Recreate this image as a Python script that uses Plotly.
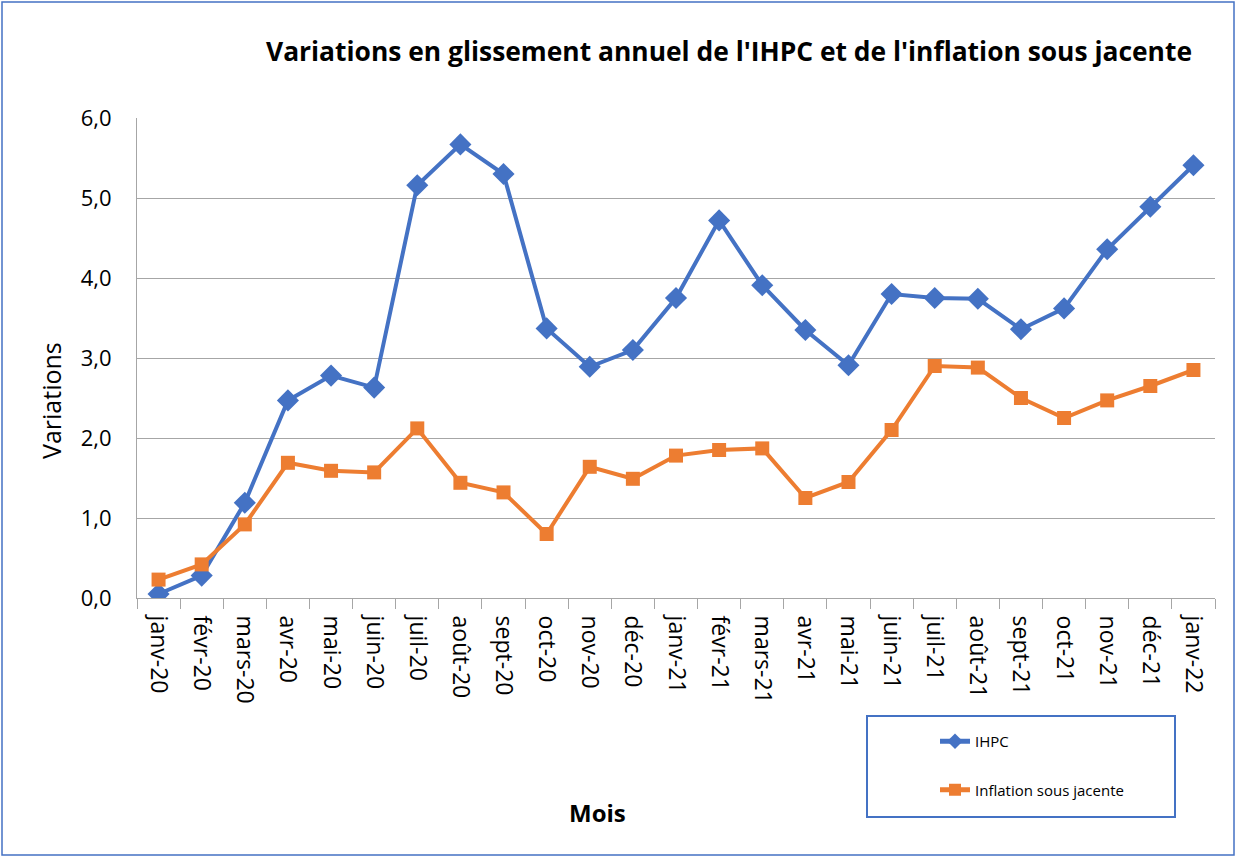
import plotly.graph_objects as go

months = ["janv-20", "févr-20", "mars-20", "avr-20", "mai-20", "juin-20", "juil-20", "août-20",
          "sept-20", "oct-20", "nov-20", "déc-20", "janv-21", "févr-21", "mars-21", "avr-21",
          "mai-21", "juin-21", "juil-21", "août-21", "sept-21", "oct-21", "nov-21", "déc-21", "janv-22"]
ihpc = [0.05, 0.28, 1.19, 2.47, 2.78, 2.63, 5.16, 5.67, 5.30, 3.37, 2.89, 3.10, 3.75,
        4.72, 3.91, 3.35, 2.91, 3.80, 3.75, 3.74, 3.36, 3.62, 4.36, 4.89, 5.41]
sous_jacente = [0.23, 0.42, 0.92, 1.69, 1.59, 1.57, 2.12, 1.44, 1.32, 0.80, 1.64, 1.49, 1.78,
                1.85, 1.87, 1.25, 1.45, 2.10, 2.90, 2.88, 2.50, 2.25, 2.47, 2.65, 2.85]
y_ticks = [0, 1, 2, 3, 4, 5, 6]

W, H = 1236, 857
L, R, T, B = 137, 1215, 118, 598


def px(x):
    return (x - L) / (R - L)


def py(y):
    return (B - y) / (B - T)


fig = go.Figure()
fig.add_trace(go.Scatter(x=months, y=ihpc, name="IHPC", mode="lines+markers",
                         line=dict(color="#4472C4", width=4),
                         marker=dict(symbol="diamond", size=17, color="#4472C4"),
                         legendgroup="a"))
fig.add_trace(go.Scatter(x=months, y=sous_jacente, name="Inflation sous jacente", mode="lines+markers",
                         line=dict(color="#ED7D31", width=4),
                         marker=dict(symbol="square", size=14, color="#ED7D31"),
                         legendgroup="b"))

font_main = "Open Sans, sans-serif"

fig.update_layout(
    width=W, height=H,
    margin=dict(l=L, r=W - R, t=T, b=H - B, autoexpand=False),
    paper_bgcolor="white", plot_bgcolor="white",
    separators=", ",
    title=dict(text="<b>Variations en glissement annuel de l'IHPC et de l'inflation sous jacente</b>",
               x=729 / W, xanchor="center", y=1 - 52 / H, yanchor="middle",
               font=dict(family=font_main, size=26.4, color="black")),
    xaxis=dict(type="category", range=[-0.5, 24.5], tickangle=90, tickson="boundaries", ticks="outside",
               ticklen=10, tickcolor="#a6a6a6", showgrid=False, ticklabelstandoff=12,
               showline=True, linecolor="#a6a6a6", linewidth=1,
               tickfont=dict(family=font_main, size=23, color="black")),
    yaxis=dict(range=[0, 6], tickvals=y_ticks, tickformat=".1f", showgrid=True,
               gridcolor="#a6a6a6", gridwidth=1, zeroline=False, ticklabelstandoff=20,
               showline=True, linecolor="#a6a6a6", linewidth=1, ticks="",
               tickfont=dict(family=font_main, size=22, color="black")),
    showlegend=True,
    legend=dict(x=px(935), y=py(725), xanchor="left", yanchor="top",
                bgcolor="rgba(0,0,0,0)", borderwidth=0, itemsizing="constant",
                traceorder="grouped", tracegroupgap=26,
                font=dict(family=font_main, size=15, color="black")),
    shapes=[
        dict(type="rect", xref="paper", yref="paper",
             x0=px(867), x1=px(1175), y0=py(716), y1=py(817),
             line=dict(color="#4472C4", width=2), fillcolor="rgba(0,0,0,0)"),
        dict(type="rect", xref="paper", yref="paper",
             x0=px(2), x1=px(1234), y0=py(2), y1=py(855),
             line=dict(color="#4472C4", width=1.5), fillcolor="rgba(0,0,0,0)"),
    ],
)

fig.add_annotation(text="Variations", xref="paper", yref="paper", x=px(51), y=py(401),
                   showarrow=False, xanchor="center", yanchor="middle", textangle=-90,
                   font=dict(family=font_main, size=25, color="black"))
fig.add_annotation(text="<b>Mois</b>", xref="paper", yref="paper", x=px(597), y=py(812),
                   showarrow=False, xanchor="center", yanchor="middle",
                   font=dict(family=font_main, size=24, color="black"))

fig.write_html("out.html", config={"displayModeBar": False},
               post_script="document.body.style.margin='0';document.body.style.overflow='hidden';")
